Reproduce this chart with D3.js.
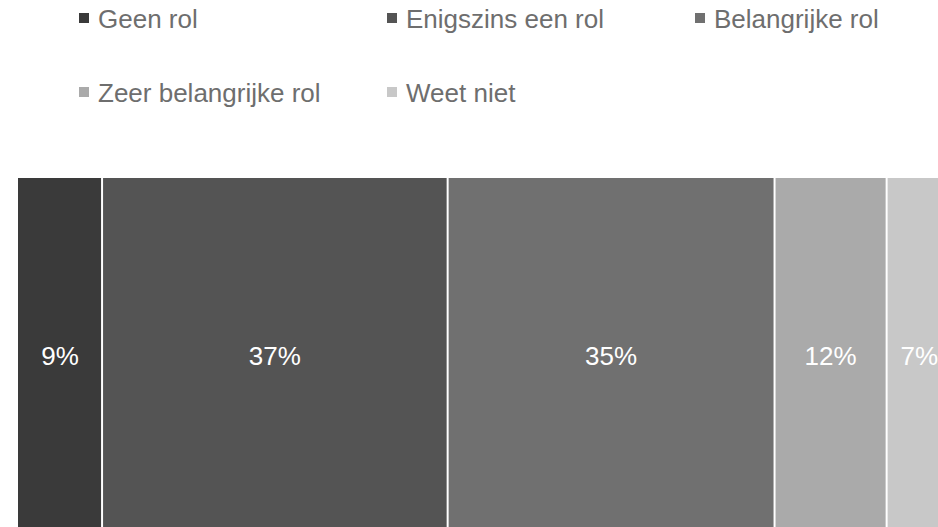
<!DOCTYPE html>
<html>
<head>
<meta charset="utf-8">
<script src="https://cdn.jsdelivr.net/npm/d3@7/dist/d3.min.js"></script>
<style>
  html, body { margin: 0; padding: 0; background: #fff; overflow: hidden; }
  svg { display: block; }
</style>
</head>
<body>
<svg id="chart" width="938" height="527"></svg>
<script>
const categories = ["Geen rol", "Enigszins een rol", "Belangrijke rol", "Zeer belangrijke rol", "Weet niet"];
const values = [9, 37, 35, 12, 7];
const colors = ["#3a3a3a", "#545454", "#707070", "#aaaaaa", "#c8c8c8"];
const labels = values.map(v => v + "%");

const svg = d3.select("#chart");
const font = "Arial, 'Liberation Sans', sans-serif";

const x = d3.scaleLinear().domain([0, 100]).range([18, 18 + 934]);
const y = d3.scaleBand().domain(["bar"]).range([178, 534]).padding(0);

let cum = 0;
const segs = values.map((v, i) => {
  const s = { cat: categories[i], v, start: cum, end: cum + v, color: colors[i], label: labels[i], i };
  cum += v;
  return s;
});

const g = svg.append("g");
g.selectAll("rect.seg").data(segs).join("rect")
  .attr("class", "seg")
  .attr("x", d => x(d.start) + (d.i > 0 ? 1 : 0))
  .attr("y", y("bar"))
  .attr("width", d => x(d.end) - x(d.start) - (d.i > 0 ? 1 : 0) - 1)
  .attr("height", y.bandwidth())
  .attr("fill", d => d.color);

g.selectAll("text.lbl").data(segs).join("text")
  .attr("class", "lbl")
  .attr("x", d => (x(d.start) + x(d.end)) / 2)
  .attr("y", y("bar") + y.bandwidth() / 2)
  .attr("dy", "0.35em")
  .attr("text-anchor", "middle")
  .attr("font-family", font)
  .attr("font-size", "26px")
  .attr("fill", "#ffffff")
  .text(d => d.label);

// Legend
const legendCols = [79, 387, 695];
const legendRows = [28, 102];
const legend = svg.append("g");
const items = legend.selectAll("g.item").data(segs).join("g")
  .attr("class", "item")
  .attr("transform", d => `translate(${legendCols[d.i % 3]},${legendRows[Math.floor(d.i / 3)]})`);
items.append("rect")
  .attr("x", 0).attr("y", -15)
  .attr("width", 10).attr("height", 10)
  .attr("fill", d => d.color);
items.append("text")
  .attr("x", 19).attr("y", 0)
  .attr("font-family", font)
  .attr("font-size", "26px")
  .attr("fill", "#6e6e6e")
  .text(d => d.cat);
</script>
</body>
</html>
